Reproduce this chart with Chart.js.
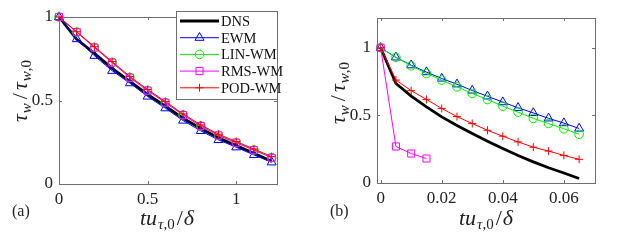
<!DOCTYPE html>
<html>
<head>
<meta charset="utf-8">
<script src="https://cdn.jsdelivr.net/npm/chart.js@4.4.1/dist/chart.umd.min.js"></script>
<style>
  html, body { margin: 0; padding: 0; background: #fff; width: 623px; height: 240px; overflow: hidden; }
  #chartA { position: absolute; left: 0; top: 0; }
  #chartB { position: absolute; left: 320px; top: 0; }
</style>
</head>
<body>
<canvas id="chartA" width="320" height="240"></canvas>
<canvas id="chartB" width="303" height="240"></canvas>
<script>
// ---- panel (a) ----
const aX   = [0, 0.1, 0.2, 0.3, 0.4, 0.5, 0.6, 0.7, 0.8, 0.9, 1.0, 1.1, 1.2];
const aDNS = [1, 0.866, 0.782, 0.692, 0.614, 0.536, 0.466, 0.394, 0.332, 0.276, 0.230, 0.184, 0.136];
const aEWM = [1, 0.868, 0.768, 0.678, 0.604, 0.524, 0.454, 0.380, 0.318, 0.264, 0.220, 0.174, 0.130];
const aLIN = [1, 0.910, 0.818, 0.728, 0.638, 0.560, 0.488, 0.414, 0.348, 0.292, 0.248, 0.204, 0.158];
const aRMS = [1, 0.909, 0.817, 0.727, 0.637, 0.559, 0.487, 0.413, 0.347, 0.291, 0.247, 0.203, 0.157];
const aPOD = [1, 0.912, 0.822, 0.733, 0.644, 0.566, 0.494, 0.420, 0.354, 0.298, 0.254, 0.210, 0.164];
const aXTicks = [0, 0.5, 1];
const aXLabels = ['0', '0.5', '1'];

// ---- panel (b) ----
const bX   = [0, 0.005, 0.01, 0.015, 0.02, 0.025, 0.03, 0.035, 0.04, 0.045, 0.05, 0.055, 0.06, 0.065];
const bDNS = [1, 0.736, 0.642, 0.563, 0.489, 0.425, 0.366, 0.309, 0.255, 0.203, 0.156, 0.113, 0.074, 0.033];
const bEWM = [1, 0.929, 0.871, 0.820, 0.773, 0.730, 0.684, 0.641, 0.598, 0.556, 0.518, 0.478, 0.443, 0.403];
const bLIN = [1, 0.929, 0.867, 0.810, 0.761, 0.711, 0.662, 0.617, 0.568, 0.524, 0.478, 0.440, 0.401, 0.360];
const bPOD = [1, 0.761, 0.683, 0.618, 0.551, 0.491, 0.440, 0.390, 0.346, 0.304, 0.265, 0.236, 0.204, 0.175];
const bRMSX = [0, 0.005, 0.01, 0.015];
const bRMS  = [1, 0.270, 0.218, 0.181];
const bXTicks = [0, 0.02, 0.04, 0.06];
const bXLabels = ['0', '0.02', '0.04', '0.06'];

const yTicks = [0, 0.5, 1];
const yLabels = ['0', '0.5', '1'];
const seriesNames = ['DNS', 'EWM', 'LIN-WM', 'RMS-WM', 'POD-WM'];

const SERIF = '"Liberation Serif", "DejaVu Serif", serif';
const AXIS_GRAY = '#6e6e6e';

const pts = (xs, ys) => xs.map((x, i) => ({ x: x, y: ys[i] }));

// series styles, same order as seriesNames
const styles = [
  { color: '#000000', width: 2.8, pointStyle: 'circle', radius: 0 },
  { color: '#0000ff', width: 1, pointStyle: 'triangle', radius: 5.2 },
  { color: '#00ee00', width: 1, pointStyle: 'circle', radius: 4.3 },
  { color: '#ff00ff', width: 1, pointStyle: 'rect', radius: 5 },
  { color: '#ff0000', width: 1, pointStyle: 'cross', radius: 4 }
];

function makeDataset(k, data) {
  const s = styles[k];
  return {
    label: seriesNames[k],
    data: data,
    showLine: true,
    borderColor: s.color,
    borderWidth: s.width,
    pointStyle: s.pointStyle,
    pointRadius: s.radius,
    pointBorderColor: s.color,
    pointBorderWidth: 1,
    pointBackgroundColor: 'rgba(0,0,0,0)',
    clip: false,
    order: 5 - k
  };
}

// write a small LaTeX-like label: segments with optional subscript
function mathText(ctx, segs, cx, cy, rot) {
  ctx.save();
  ctx.translate(cx, cy);
  if (rot) ctx.rotate(rot);
  ctx.fillStyle = '#222';
  ctx.textBaseline = 'alphabetic';
  const fontOf = s => (s.it ? 'italic ' : '') + (s.sub ? 15 : 22) + 'px ' + SERIF;
  let w = 0;
  segs.forEach(s => {
    ctx.font = fontOf(s);
    s.w = ctx.measureText(s.t).width + (s.gap || 0);
    w += s.w;
  });
  let x = -w / 2;
  segs.forEach(s => {
    ctx.font = fontOf(s);
    ctx.fillText(s.t, x + (s.pre || 0), s.sub ? 10 : 6);
    x += s.w;
  });
  ctx.restore();
}

const yTitle = () => [
  { t: 'τ', it: 1, gap: 1 }, { t: 'w', it: 1, sub: 1, gap: 3 }, { t: '/', gap: 4, pre: 1 },
  { t: 'τ', it: 1, gap: 1 }, { t: 'w', it: 1, sub: 1 }, { t: ',0', sub: 1 }
];
const xTitle = () => [
  { t: 't', it: 1 }, { t: 'u', it: 1, gap: 1 }, { t: 'τ', it: 1, sub: 1 }, { t: ',0', sub: 1, gap: 2 },
  { t: '/', gap: 1 }, { t: 'δ', it: 1 }
];

// box, inward ticks, titles and panel letter
function framePlugin(cfg) {
  return {
    id: 'frame',
    beforeDatasetsDraw(chart) {
      const { ctx, chartArea: a, scales } = chart;
      ctx.save();
      ctx.strokeStyle = AXIS_GRAY;
      ctx.lineWidth = 1;
      ctx.strokeRect(Math.round(a.left) + 0.5, Math.round(a.top) + 0.5,
                     Math.round(a.right - a.left), Math.round(a.bottom - a.top));
      ctx.beginPath();
      cfg.xTicks.forEach(v => {
        const px = Math.round(scales.x.getPixelForValue(v)) + 0.5;
        ctx.moveTo(px, a.bottom); ctx.lineTo(px, a.bottom - 3);
        ctx.moveTo(px, a.top); ctx.lineTo(px, a.top + 3);
      });
      yTicks.forEach(v => {
        const py = Math.round(scales.y.getPixelForValue(v)) + 0.5;
        ctx.moveTo(a.left, py); ctx.lineTo(a.left + 3, py);
        ctx.moveTo(a.right, py); ctx.lineTo(a.right - 3, py);
      });
      ctx.stroke();
      ctx.restore();
    },
    afterDraw(chart) {
      const { ctx } = chart;
      mathText(ctx, yTitle(), cfg.yTitleX, cfg.yTitleY, -Math.PI / 2);
      mathText(ctx, xTitle(), cfg.xTitleX, 219, 0);
      ctx.save();
      ctx.fillStyle = '#222';
      ctx.font = '16px ' + SERIF;
      ctx.textBaseline = 'middle';
      ctx.fillText(cfg.letter, cfg.letterX, 212);
      ctx.restore();
    }
  };
}

// legend box inside panel (a)
const legendPlugin = {
  id: 'boxLegend',
  afterDraw(chart) {
    const { ctx } = chart;
    const L = 176, T = 11, R = 277, B = 99;
    ctx.save();
    ctx.fillStyle = '#fff';
    ctx.fillRect(L, T, R - L, B - T);
    ctx.strokeStyle = AXIS_GRAY;
    ctx.lineWidth = 1;
    ctx.strokeRect(L + 0.5, T + 0.5, R - L, B - T);
    seriesNames.forEach((name, k) => {
      const s = styles[k];
      const y = 21 + k * 16.7;
      ctx.strokeStyle = s.color;
      ctx.lineWidth = s.width;
      ctx.beginPath();
      ctx.moveTo(180, y); ctx.lineTo(219, y);
      ctx.stroke();
      if (s.radius > 0) {
        ctx.lineWidth = 1;
        ctx.fillStyle = 'rgba(0,0,0,0)';
        Chart.helpers.drawPoint(ctx, { pointStyle: s.pointStyle, radius: s.radius, rotation: 0, borderWidth: 1 }, 199.5, y);
      }
      ctx.fillStyle = '#111';
      ctx.font = '14.5px ' + SERIF;
      ctx.textBaseline = 'middle';
      ctx.fillText(name, 221, y + 1);
    });
    ctx.restore();
  }
};

function axisOptions(xMin, xMax, xTicks, xLabels, yMax, yWidth, xHeight) {
  return {
    x: {
      type: 'linear', min: xMin, max: xMax,
      grid: { display: false, drawTicks: false },
      border: { display: false },
      afterBuildTicks: s => { s.ticks = xTicks.map(v => ({ value: v })); },
      afterFit: s => { s.height = xHeight; },
      ticks: {
        padding: 5, color: '#222', maxRotation: 0,
        font: { family: SERIF, size: 17 },
        callback: (v, i) => xLabels[i]
      }
    },
    y: {
      type: 'linear', min: 0, max: yMax,
      grid: { display: false, drawTicks: false },
      border: { display: false },
      afterBuildTicks: s => { s.ticks = yTicks.map(v => ({ value: v })); },
      afterFit: s => { s.width = yWidth; },
      ticks: {
        padding: 6, color: '#222',
        font: { family: SERIF, size: 17 },
        callback: (v, i) => yLabels[i]
      }
    }
  };
}

new Chart(document.getElementById('chartA'), {
  type: 'scatter',
  data: {
    datasets: [
      makeDataset(0, pts(aX, aDNS)),
      makeDataset(1, pts(aX, aEWM)),
      makeDataset(2, pts(aX, aLIN)),
      makeDataset(3, pts(aX, aRMS)),
      makeDataset(4, pts(aX, aPOD))
    ]
  },
  options: {
    responsive: false,
    animation: false,
    devicePixelRatio: 1,
    layout: { padding: { left: 0, right: 43, top: 17, bottom: 0 } },
    scales: axisOptions(0, 1.23, aXTicks, aXLabels, 1, 59, 56),
    plugins: { legend: { display: false }, tooltip: { enabled: false } }
  },
  plugins: [framePlugin({ xTicks: aXTicks, yTitleX: 21, yTitleY: 91, xTitleX: 167, letter: '(a)', letterX: 12 }), legendPlugin]
});

new Chart(document.getElementById('chartB'), {
  type: 'scatter',
  data: {
    datasets: [
      makeDataset(0, pts(bX, bDNS)),
      makeDataset(1, pts(bX, bEWM)),
      makeDataset(2, pts(bX, bLIN)),
      makeDataset(3, pts(bRMSX, bRMS)),
      makeDataset(4, pts(bX, bPOD))
    ]
  },
  options: {
    responsive: false,
    animation: false,
    devicePixelRatio: 1,
    layout: { padding: { left: 0, right: 28, top: 18, bottom: 0 } },
    scales: axisOptions(-0.0012, 0.0702, bXTicks, bXLabels, 1.22, 57, 57),
    plugins: { legend: { display: false }, tooltip: { enabled: false } }
  },
  plugins: [framePlugin({ xTicks: bXTicks, yTitleX: 19, yTitleY: 93, xTitleX: 166, letter: '(b)', letterX: 10 })]
});
</script>
</body>
</html>
